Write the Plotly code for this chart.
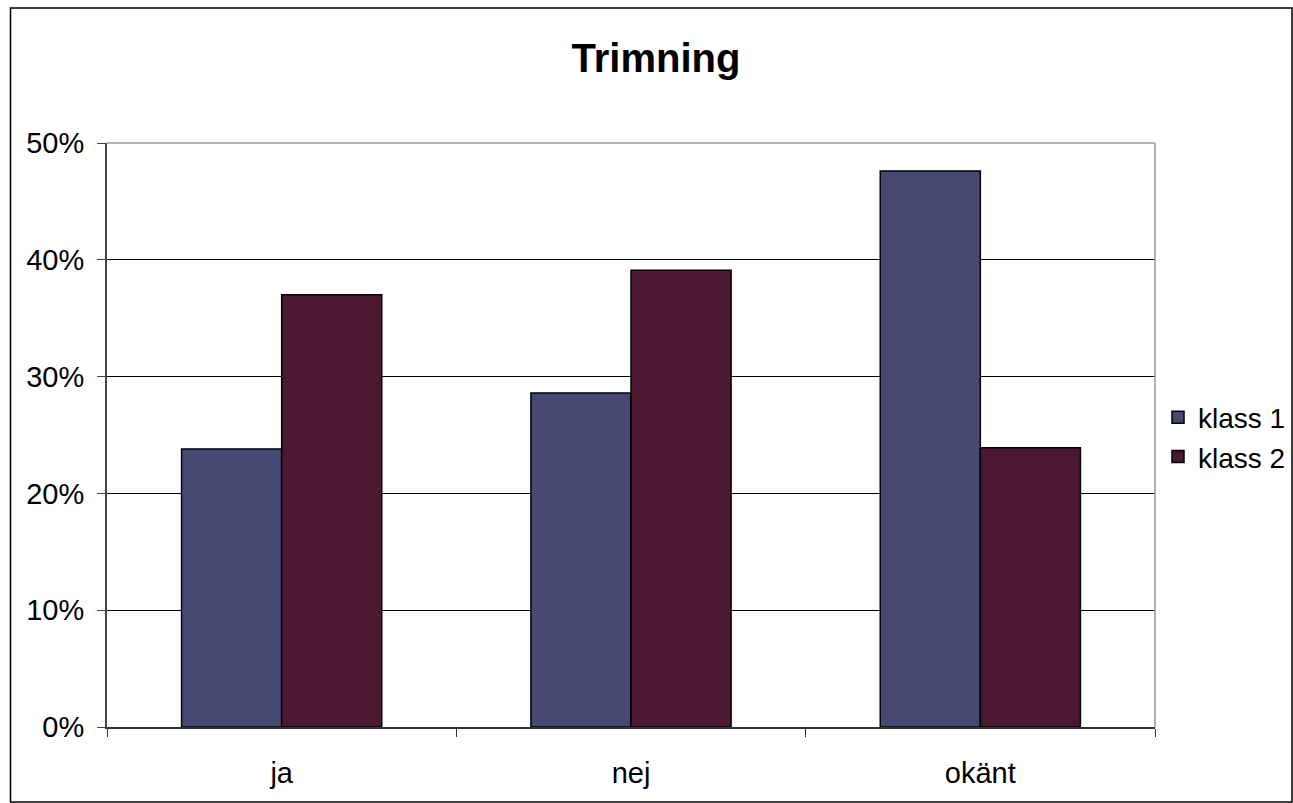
import plotly.graph_objects as go

categories = ["ja", "nej", "okänt"]
klass1 = [0.238, 0.286, 0.476]
klass2 = [0.370, 0.391, 0.239]
series_names = ["klass 1", "klass 2"]
y_ticks = [0, 0.1, 0.2, 0.3, 0.4, 0.5]
y_tick_labels = ["0%", "10%", "20%", "30%", "40%", "50%"]
title_text = "Trimning"

colors = ["#474874", "#4a1830"]
FONT = "Liberation Sans, Arial, sans-serif"

fig = go.Figure()
for name, vals, col in zip(series_names, [klass1, klass2], colors):
    fig.add_trace(go.Bar(
        x=categories, y=vals, name=name,
        marker=dict(color=col, line=dict(color="#000000", width=1.5)),
    ))

W, H = 1293, 803
L, R, T, B = 107, 1155, 142.5, 727
pw, ph = R - L, B - T

def px(X):
    return (X - L) / pw

def py(Y):
    return (B - Y) / ph

fig.update_layout(
    width=W, height=H,
    margin=dict(l=L, r=W - R, t=T, b=H - B, autoexpand=False),
    paper_bgcolor="white", plot_bgcolor="white",
    barmode="group", bargap=0.427, bargroupgap=0,
    font=dict(family=FONT, size=29, color="#000000"),
    title=dict(text=f"<b>{title_text}</b>", x=656 / W, xanchor="center",
               xref="container",
               y=1 - 58 / H, yanchor="middle", yref="container",
               font=dict(family=FONT, size=40, color="#000000")),
    legend=dict(xref="container", yref="container",
                x=1158 / W, xanchor="left", y=1 - 437 / H, yanchor="middle",
                font=dict(family=FONT, size=28), bgcolor="rgba(0,0,0,0)",
                tracegroupgap=0, itemwidth=30),
    showlegend=True,
)

fig.update_xaxes(
    showline=True, linecolor="#333333", linewidth=1.5,
    ticks="outside", ticklen=8, tickcolor="#333333", tickwidth=1,
    tickson="boundaries", showgrid=False,
    ticklabelstandoff=19,
    tickfont=dict(family=FONT, size=29),
)
fig.update_yaxes(
    range=[0, 0.5], tickvals=y_ticks, ticktext=y_tick_labels,
    showline=True, linecolor="#444444", linewidth=2,
    ticks="outside", ticklen=8, tickcolor="#444444", tickwidth=1,
    showgrid=True, gridcolor="#000000", gridwidth=1,
    zeroline=False, ticklabelstandoff=7,
    tickfont=dict(family=FONT, size=29),
)

shapes = [
    dict(type="line", xref="paper", yref="paper", x0=0, x1=1, y0=1, y1=1,
         line=dict(color="#999999", width=1.5), layer="above"),
    dict(type="line", xref="paper", yref="paper", x0=1, x1=1, y0=0, y1=1,
         line=dict(color="#999999", width=1.5), layer="above"),
    dict(type="rect", xref="paper", yref="paper",
         x0=px(10.5), x1=px(1292), y0=py(802), y1=py(7.5),
         line=dict(color="#000000", width=1.5), fillcolor="rgba(0,0,0,0)"),
]
fig.update_layout(shapes=shapes)

fig.write_html("out.html", config={"displayModeBar": False},
               post_script="document.body.style.margin='0';document.body.style.overflow='hidden';")
